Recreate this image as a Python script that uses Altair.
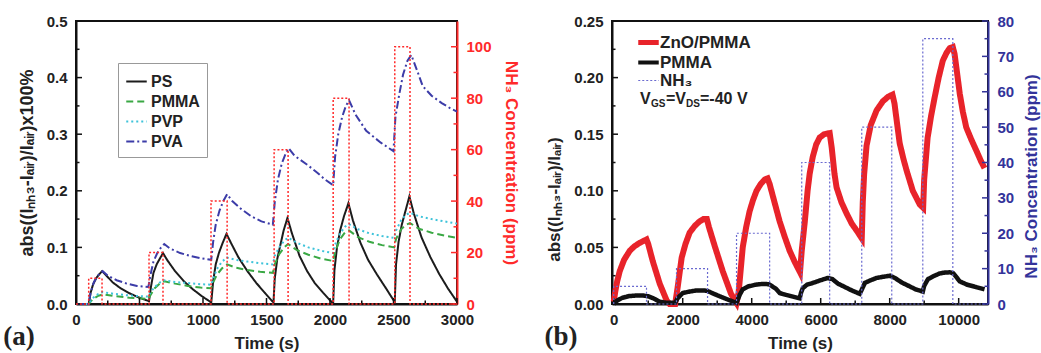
import altair as alt
import pandas as pd

# ---------------- Panel (a) data ----------------
PS_t = [0, 100, 115, 135, 160, 185, 205, 240, 290, 350, 420, 490, 550, 575,
        590, 610, 635, 660, 685, 720, 780, 850, 920, 990, 1050, 1065,
        1080, 1100, 1125, 1155, 1185, 1220, 1280, 1350, 1420, 1490, 1545, 1555,
        1565, 1585, 1610, 1635, 1665, 1700, 1760, 1820, 1880, 1945, 2015, 2025,
        2035, 2055, 2080, 2110, 2145, 2180, 2240, 2300, 2370, 2440, 2505, 2510,
        2520, 2540, 2565, 2595, 2625, 2660, 2720, 2790, 2860, 2930, 3000]
PS_v = [0, 0, 0.02, 0.035, 0.046, 0.053, 0.058, 0.05, 0.038, 0.028, 0.019, 0.012, 0.007, 0.005,
        0.03, 0.055, 0.07, 0.08, 0.09, 0.077, 0.058, 0.04, 0.026, 0.014, 0.005, 0.003,
        0.04, 0.07, 0.09, 0.108, 0.124, 0.108, 0.082, 0.058, 0.037, 0.019, 0.005, 0.003,
        0.045, 0.08, 0.105, 0.13, 0.152, 0.125, 0.085, 0.058, 0.037, 0.02, 0.003, 0.002,
        0.06, 0.1, 0.13, 0.155, 0.178, 0.148, 0.108, 0.078, 0.052, 0.028, 0.005, 0.004,
        0.07, 0.11, 0.14, 0.165, 0.19, 0.16, 0.118, 0.083, 0.053, 0.027, 0.004]

PVA_t = [0, 100, 115, 140, 170, 210, 250, 320, 400, 480, 570,
         585, 610, 640, 670, 695, 740, 820, 900, 980, 1065,
         1080, 1100, 1130, 1160, 1190, 1230, 1300, 1380, 1460, 1550,
         1565, 1590, 1620, 1650, 1675, 1720, 1815, 1900, 1960, 2025,
         2040, 2065, 2095, 2125, 2150, 2200, 2285, 2400, 2500,
         2515, 2545, 2575, 2610, 2640, 2690, 2730, 2800, 2880, 2953, 3000]
PVA_v = [0, 0, 0.02, 0.038, 0.05, 0.058, 0.05, 0.042, 0.036, 0.032, 0.03,
         0.05, 0.075, 0.09, 0.1, 0.106, 0.098, 0.09, 0.085, 0.081, 0.078,
         0.11, 0.14, 0.165, 0.182, 0.194, 0.182, 0.168, 0.155, 0.146, 0.14,
         0.18, 0.22, 0.248, 0.265, 0.275, 0.262, 0.247, 0.232, 0.22, 0.21,
         0.26, 0.3, 0.33, 0.35, 0.36, 0.335, 0.306, 0.285, 0.27,
         0.33, 0.37, 0.405, 0.43, 0.44, 0.41, 0.385, 0.368, 0.355, 0.345, 0.34]

PVP_t = [0, 100, 130, 170, 210, 300, 420, 570,
         585, 620, 660, 695, 780, 880, 980, 1065,
         1080, 1110, 1150, 1190, 1260, 1350, 1450, 1550,
         1565, 1600, 1640, 1670, 1740, 1830, 1930, 2025,
         2040, 2080, 2120, 2150, 2220, 2310, 2410, 2505,
         2520, 2560, 2600, 2630, 2700, 2800, 2900, 3000]
PVP_v = [0, 0, 0.01, 0.017, 0.021, 0.018, 0.015, 0.013,
         0.02, 0.03, 0.038, 0.042, 0.039, 0.037, 0.035, 0.034,
         0.045, 0.062, 0.075, 0.082, 0.078, 0.075, 0.072, 0.07,
         0.085, 0.1, 0.112, 0.117, 0.108, 0.1, 0.094, 0.09,
         0.105, 0.125, 0.137, 0.141, 0.132, 0.125, 0.12, 0.117,
         0.13, 0.148, 0.158, 0.161, 0.155, 0.15, 0.146, 0.142]

PMMA_A_t = PVP_t
PMMA_A_v = [0, 0, 0.008, 0.014, 0.017, 0.014, 0.011, 0.009,
            0.015, 0.028, 0.036, 0.04, 0.036, 0.032, 0.029, 0.028,
            0.038, 0.052, 0.063, 0.07, 0.064, 0.06, 0.057, 0.055,
            0.07, 0.088, 0.1, 0.106, 0.095, 0.087, 0.08, 0.076,
            0.092, 0.115, 0.127, 0.13, 0.118, 0.11, 0.104, 0.1,
            0.115, 0.132, 0.14, 0.143, 0.133, 0.126, 0.121, 0.117]

NH3_A_t = [0, 100, 100, 205, 205, 575, 575, 685, 685, 1063, 1063, 1190, 1190,
           1560, 1560, 1670, 1670, 2025, 2025, 2150, 2150, 2510, 2510, 2630, 2630, 3000]
NH3_A_v = [0, 0, 10, 10, 0, 0, 20, 20, 0, 0, 40, 40, 0,
           0, 60, 60, 0, 0, 80, 80, 0, 0, 100, 100, 0, 0]

A_SERIES = ["PS", "PMMA", "PVP", "PVA"]
A_COLORS = ["#1c1c1c", "#3aa844", "#3ec3da", "#3c3ca8"]
A_DASH = [[1, 0], [7, 4], [2, 3], [8, 3, 2, 3]]

A_X_MAJOR = [0, 500, 1000, 1500, 2000, 2500, 3000]
A_X_MINOR = [250, 750, 1250, 1750, 2250, 2750]
A_Y_MAJOR = [0.0, 0.1, 0.2, 0.3, 0.4, 0.5]
A_Y_MINOR = [0.05, 0.15, 0.25, 0.35, 0.45]
A_R_MAJOR = [0, 20, 40, 60, 80, 100]
A_R_MINOR = [10, 30, 50, 70, 90]

# ---------------- Panel (b) data ----------------
ZNO_t = [0, 50, 100, 174, 300, 464, 600, 754, 950,
         1000, 1130, 1333, 1536, 1620, 1780,
         1850, 1970, 2080, 2200, 2350, 2490, 2600, 2700,
         2760, 2930, 3160, 3400, 3560,
         3620, 3740, 3840, 3940, 4040, 4140, 4260, 4380, 4460,
         4520, 4660, 4810, 4950, 5100, 5250, 5400,
         5450, 5540, 5620, 5680, 5770, 5870, 5970, 6100, 6260,
         6320, 6400, 6460, 6600, 6750, 6900, 7040, 7190,
         7220, 7260, 7330, 7450, 7620, 7800, 7950, 8080,
         8140, 8220, 8290, 8400, 8490, 8670, 8870, 8970,
         9000, 9100, 9200, 9300, 9420, 9540, 9650, 9740, 9830,
         9880, 9950, 10030, 10120, 10220, 10370, 10520, 10650, 10750]
ZNO_v = [0.002, 0.012, 0.02, 0.029, 0.039, 0.047, 0.051, 0.054, 0.057,
         0.053, 0.038, 0.018, 0.003, 0.0, 0.0,
         0.014, 0.041, 0.053, 0.063, 0.069, 0.073, 0.075, 0.075,
         0.068, 0.051, 0.029, 0.009, 0.001,
         0.01, 0.05, 0.068, 0.082, 0.092, 0.1, 0.106, 0.11, 0.111,
         0.106, 0.09, 0.073, 0.06, 0.047, 0.037, 0.028,
         0.047, 0.073, 0.1, 0.115, 0.13, 0.141, 0.147, 0.15, 0.151,
         0.138, 0.115, 0.103, 0.09, 0.08, 0.071, 0.065, 0.058,
         0.09, 0.115, 0.14, 0.158, 0.171, 0.179, 0.183, 0.185,
         0.177, 0.158, 0.142, 0.128, 0.118, 0.1, 0.088, 0.085,
         0.11, 0.147, 0.166, 0.182, 0.2, 0.215, 0.222, 0.226, 0.227,
         0.221, 0.205, 0.186, 0.17, 0.156, 0.145, 0.135, 0.126, 0.12]

PMMA_B_t = [0, 100, 250, 450, 650, 850, 1000, 1150, 1330, 1550, 1780,
            1850, 2000, 2200, 2400, 2600, 2720, 2900, 3100, 3300, 3560,
            3650, 3740, 3900, 4100, 4300, 4500, 4700, 4810, 5000, 5200, 5390,
            5430, 5480, 5600, 5770, 6000, 6200, 6340, 6500, 6700, 6900, 7130,
            7180, 7280, 7450, 7620, 7800, 8010, 8150, 8350, 8550, 8750, 8960,
            9000, 9110, 9300, 9450, 9600, 9740, 9850, 10030, 10250, 10500, 10750]
PMMA_B_v = [0.0, 0.003, 0.0055, 0.007, 0.0075, 0.0075, 0.0068, 0.005, 0.002, 0.001, 0.001,
            0.005, 0.0097, 0.011, 0.012, 0.012, 0.0115, 0.009, 0.0065, 0.004, 0.001,
            0.008, 0.013, 0.0155, 0.017, 0.0177, 0.0175, 0.0135, 0.0097, 0.008, 0.0065, 0.005,
            0.01, 0.014, 0.017, 0.0186, 0.021, 0.023, 0.022, 0.018, 0.015, 0.012, 0.009,
            0.012, 0.0186, 0.021, 0.023, 0.024, 0.025, 0.023, 0.019, 0.016, 0.013, 0.011,
            0.016, 0.022, 0.025, 0.027, 0.0278, 0.028, 0.027, 0.02, 0.017, 0.015, 0.013]

NH3_B_t = [0, 0, 950, 950, 1820, 1820, 2720, 2720, 3560, 3560, 4520, 4520,
           5450, 5450, 6260, 6260, 7190, 7190, 8060, 8060, 8960, 8960, 9830, 9830, 10850]
NH3_B_v = [0, 5, 5, 0, 0, 10, 10, 0, 0, 20, 20, 0,
           0, 40, 40, 0, 0, 50, 50, 0, 0, 75, 75, 0, 0]

B_SERIES = ["ZnO/PMMA", "PMMA", "NH\u2083"]
B_COLORS = ["#e8232a", "#111111", "#6a6ad0"]
B_DASH = [[1, 0], [1, 0], [2, 2]]

B_X_MAJOR = [0, 2000, 4000, 6000, 8000, 10000]
B_X_MINOR = [1000, 3000, 5000, 7000, 9000]
B_Y_MAJOR = [0.0, 0.05, 0.10, 0.15, 0.20, 0.25]
B_Y_MINOR = [0.025, 0.075, 0.125, 0.175, 0.225]
B_R_MAJOR = [0, 10, 20, 30, 40, 50, 60, 70, 80]
B_R_MINOR = [5, 15, 25, 35, 45, 55, 65, 75]

# ---------------- styling ----------------
FONT = "Liberation Sans"
TXT = "#222222"
RED_A = "#ff2a2a"
BLUE_B = "#33339a"
W_A, W_B, H = 381, 376, 283

TITLE_AL = "abs((I\u2099\u2095\u2083-I\u2090\u1d62\u1d63)/I\u2090\u1d62\u1d63)x100%"
TITLE_BL = "abs((I\u2099\u2095\u2083-I\u2090\u1d62\u1d63)/I\u2090\u1d62\u1d63)"
TITLE_R = "NH\u2083 Concentration (ppm)"


def long_df(pairs, key):
    rows = []
    for name, ts, vs in pairs:
        for i, (t, v) in enumerate(zip(ts, vs)):
            rows.append({"t": t, "v": v, key: name, "i": i})
    return pd.DataFrame(rows)


def vals_df(vals):
    return pd.DataFrame({"v": vals})


def xvals_df(vals):
    return pd.DataFrame({"t": vals})


def x_enc(domain, values):
    return alt.X("t:Q", scale=alt.Scale(domain=domain, nice=False, zero=False),
                 axis=alt.Axis(values=values, format="d", title="Time (s)", labelPadding=8,
                               titlePadding=8, domainColor="#111111", domainWidth=2,
                               labelFlush=False))


def y_enc(domain, values, fmt, title, orient, color, angle, tsize=17, tbase=None, ty=None):
    kw = {}
    if tbase is not None:
        kw["titleBaseline"] = tbase
    if ty is not None:
        kw["titleY"] = ty
    return alt.Y("v:Q", scale=alt.Scale(domain=domain, nice=False, zero=False),
                 axis=alt.Axis(values=values, format=fmt, title=title, orient=orient,
                               labelPadding=9, titlePadding=10, domainColor=color,
                               domainWidth=2, labelColor=(TXT if color == "#111111" else color),
                               titleColor=(TXT if color == "#111111" else color),
                               titleAngle=angle, titleFontSize=tsize, labelFlush=False, **kw))


def ticks_y(yenc, vals, x0, x1, color):
    return alt.Chart(vals_df(vals)).mark_rule(color=color, strokeWidth=1.5).encode(
        y=yenc, x=alt.value(x0), x2=alt.value(x1))


def ticks_x(xenc, vals, ln):
    return alt.Chart(xvals_df(vals)).mark_rule(color="#111111", strokeWidth=1.5).encode(
        x=xenc, y=alt.value(H), y2=alt.value(H - ln))


def label_text(s, x, y, size, font=FONT, color=TXT):
    return alt.Chart(pd.DataFrame({"s": [s]})).mark_text(
        font=font, fontSize=size, fontWeight="bold", color=color, align="left",
        baseline="alphabetic").encode(text="s:N", x=alt.value(x), y=alt.value(y))


# ---------------- Panel (a) ----------------
df_a = long_df([("PS", PS_t, PS_v), ("PMMA", PMMA_A_t, PMMA_A_v),
                ("PVP", PVP_t, PVP_v), ("PVA", PVA_t, PVA_v)], "film")
df_nh3a = long_df([("NH3", NH3_A_t, NH3_A_v)], "gas")

xa = lambda: x_enc([0, 3000], A_X_MAJOR)
ya = lambda: y_enc([0, 0.5], A_Y_MAJOR, ".1f", TITLE_AL, "left", "#111111", 270, 18)
ra = lambda: y_enc([0, 110], A_R_MAJOR, "d", TITLE_R, "right", RED_A, 90, 17)

leg_a = alt.Legend(title=None, orient="none", legendX=42, legendY=42, direction="vertical",
                   symbolType="stroke", symbolSize=420, symbolStrokeWidth=2,
                   labelFont=FONT, labelFontSize=16, labelFontWeight="bold",
                   labelColor=TXT, labelOffset=3, rowPadding=0, padding=7,
                   strokeColor="#999999", cornerRadius=0)

lines_a = alt.Chart(df_a).mark_line(strokeWidth=2).encode(
    x=xa(), y=ya(),
    color=alt.Color("film:N", scale=alt.Scale(domain=A_SERIES, range=A_COLORS), legend=leg_a),
    strokeDash=alt.StrokeDash("film:N", scale=alt.Scale(domain=A_SERIES, range=A_DASH), legend=leg_a),
    order="i:Q")

left_a = alt.layer(
    lines_a,
    ticks_y(ya(), A_Y_MAJOR, 0, 6, "#111111"),
    ticks_y(ya(), A_Y_MINOR, 0, 3.5, "#111111"),
    ticks_x(xa(), A_X_MAJOR, 6),
    ticks_x(xa(), A_X_MINOR, 3.5),
    alt.Chart(pd.DataFrame({"s": ["(a)"]})).mark_text(
        font="Liberation Serif", fontSize=27, fontWeight="bold", color=TXT,
        align="center", baseline="alphabetic").encode(
        text="s:N", x=alt.value(-57), y=alt.value(H + 41)),
)

nh3_a = alt.Chart(df_nh3a).mark_line(color=RED_A, strokeDash=[2, 2], strokeWidth=1.5).encode(
    x=xa(), y=ra(), order="i:Q")

right_a = alt.layer(
    nh3_a,
    ticks_y(ra(), A_R_MAJOR, W_A, W_A - 6, RED_A),
    ticks_y(ra(), A_R_MINOR, W_A, W_A - 3.5, RED_A),
)

panel_a = alt.layer(left_a, right_a).resolve_scale(y="independent").properties(
    width=W_A, height=H)

# ---------------- Panel (b) ----------------
df_zno = long_df([("ZnO/PMMA", ZNO_t, ZNO_v)], "sample")
df_pmmab = long_df([("PMMA", PMMA_B_t, PMMA_B_v)], "sample")
df_nh3b = long_df([("NH\u2083", NH3_B_t, NH3_B_v)], "sample")

xb = lambda: x_enc([-50, 10850], B_X_MAJOR)
yb = lambda: y_enc([0, 0.25], B_Y_MAJOR, ".2f", TITLE_BL, "left", "#111111", 270, 17, None, 178)
rb = lambda: y_enc([0, 80], B_R_MAJOR, "d", TITLE_R, "right", BLUE_B, 270, 17, "top", 155)

leg_b = alt.Legend(title=None, orient="none", legendX=28, legendY=13, direction="vertical",
                   symbolType="stroke", symbolSize=420,
                   symbolStrokeWidth=alt.ExprRef(
                       "datum.value === 'ZnO/PMMA' ? 5 : (datum.value === 'PMMA' ? 4 : 1.2)"),
                   labelFont=FONT, labelFontSize=17, labelFontWeight="bold",
                   labelColor=TXT, labelOffset=3, rowPadding=0, padding=0)


def b_enc():
    return dict(
        color=alt.Color("sample:N", scale=alt.Scale(domain=B_SERIES, range=B_COLORS), legend=leg_b),
        strokeDash=alt.StrokeDash("sample:N", scale=alt.Scale(domain=B_SERIES, range=B_DASH), legend=leg_b),
    )


zno_line = alt.Chart(df_zno).mark_line(strokeWidth=6).encode(x=xb(), y=yb(), order="i:Q", **b_enc())
pmma_line = alt.Chart(df_pmmab).mark_line(strokeWidth=4.5).encode(x=xb(), y=yb(), order="i:Q", **b_enc())

left_b = alt.layer(
    zno_line,
    pmma_line,
    ticks_y(yb(), B_Y_MAJOR, 0, 6, "#111111"),
    ticks_y(yb(), B_Y_MINOR, 0, 3.5, "#111111"),
    ticks_x(xb(), B_X_MAJOR, 6),
    ticks_x(xb(), B_X_MINOR, 3.5),
    label_text("V", 28, 83, 16),
    label_text("GS", 39, 86, 10),
    label_text("=V", 54, 83, 16),
    label_text("DS", 74, 86, 10),
    label_text("=-40 V", 88, 83, 16),
    alt.Chart(pd.DataFrame({"s": ["(b)"]})).mark_text(
        font="Liberation Serif", fontSize=27, fontWeight="bold", color=TXT,
        align="center", baseline="alphabetic").encode(
        text="s:N", x=alt.value(-51), y=alt.value(H + 41)),
)

nh3_b = alt.Chart(df_nh3b).mark_line(strokeWidth=1.2).encode(x=xb(), y=rb(), order="i:Q", **b_enc())

right_b = alt.layer(
    nh3_b,
    ticks_y(rb(), B_R_MAJOR, W_B, W_B - 6, BLUE_B),
    ticks_y(rb(), B_R_MINOR, W_B, W_B - 3.5, BLUE_B),
)

panel_b = alt.layer(left_b, right_b).resolve_scale(y="independent").properties(
    width=W_B, height=H)

chart = alt.hconcat(panel_a, panel_b, spacing=22).resolve_scale(
    color="independent", strokeDash="independent"
).resolve_legend(
    color="independent", strokeDash="independent"
).properties(
    padding={"left": 2, "top": 13, "right": 0, "bottom": 0}
).configure(font=FONT).configure_view(
    stroke="#111111", strokeWidth=2
).configure_axis(
    grid=False, ticks=False, labelFont=FONT, labelFontSize=15, labelFontWeight="bold",
    labelColor=TXT, titleFont=FONT, titleFontSize=17, titleFontWeight="bold", titleColor=TXT
)

chart.save("out.html", embed_options={"renderer": "svg", "actions": False})
